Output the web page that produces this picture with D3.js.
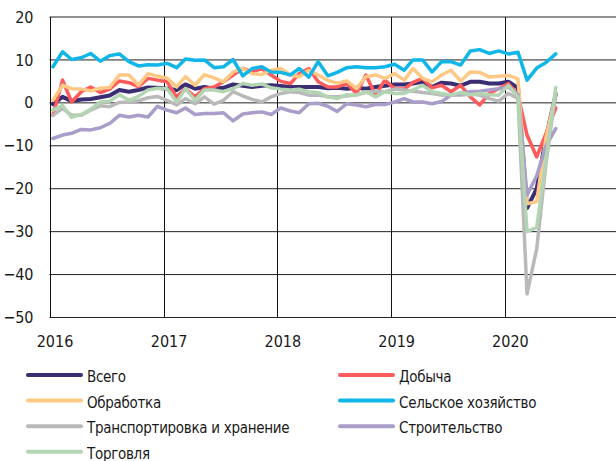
<!DOCTYPE html>
<html>
<head>
<meta charset="utf-8">
<script src="https://cdn.jsdelivr.net/npm/d3@7"></script>
<style>
  body { margin: 0; background: #fff; }
  text { font-family: "Liberation Sans Narrow", "DejaVu Sans Condensed", sans-serif; fill: #1a1a1a; }
</style>
</head>
<body>
<div id="chart"></div>
<script>
// monthly points, Jan 2016 .. Jun 2020
const dates = d3.range(54).map(i => new Date(2016, i, 12));
const years = [2016, 2017, 2018, 2019, 2020];
const yTicks = [-50, -40, -30, -20, -10, 0, 10, 20];

const names = ["Всего", "Добыча", "Обработка", "Сельское хозяйство",
  "Транспортировка и хранение", "Строительство", "Торговля"];
const colors = ["#3b2d72", "#ff5b5b", "#ffc985", "#10b6e8", "#b9b9b9", "#a99dc9", "#b4d5b4"];

const vsego = [-0.3, 1.4, 0.4, 0.8, 0.9, 1.3, 1.7, 3, 2.6, 3,
  3.6, 3.5, 3.3, 3, 4.3, 3.3, 3.7, 3.3, 3.5, 4.3,
  4, 3.7, 4, 4.1, 3.9, 3.7, 3.7, 3.7, 3.7, 3.4,
  3.5, 3.3, 3.5, 3.3, 3.7, 4, 4.3, 4.3, 4.5, 4.9,
  3.7, 4.7, 4.5, 4, 4.9, 4.9, 4.5, 4.5, 4.9, 3.5,
  -24.5, -20, -8, 2];
const dobycha = [-2.9, 5.3, 0.2, 2.6, 3.7, 2.4, 3.2, 5.1, 4.7, 3.8,
  5.7, 5.3, 4.9, 1.4, 3.3, 1.4, 3.3, 3.7, 4.9, 6.5,
  8, 7.2, 8, 6.5, 5, 4.5, 6.8, 8, 4.9, 3.7,
  3.7, 4.5, 2.2, 6.5, 1.8, 5.3, 3.3, 3.2, 4.8, 5.7,
  3.5, 4.1, 2.6, 4.1, 1.4, -0.5, 2.2, 3.3, 4.5, 1.8,
  -7.5, -12.6, -7.1, -1.2];
const obrabotka = [0.6, 4.1, 3.3, 3.2, 2.8, 3.4, 3.6, 6.5, 6.5, 4.1,
  6.8, 6.2, 5.8, 3.7, 6.1, 4.1, 6.6, 5.8, 4.9, 7.2,
  8, 6.8, 6.6, 7.6, 8, 6.5, 6.1, 7.6, 6.5, 5.2,
  4.6, 5.1, 3.3, 6.1, 6.5, 5.7, 6.8, 5.3, 8, 5.7,
  4.9, 6.5, 7.6, 5.1, 7.2, 7.1, 6, 6.2, 6.4, 5.6,
  -23.5, -23, -8, 2];
const selkhoz = [8.4, 11.9, 10.1, 10.5, 11.5, 9.7, 11, 11.4, 9.6, 8.6,
  8.9, 8.8, 9.2, 8.2, 10.2, 9.9, 10, 8.2, 8.4, 10.1,
  6.3, 8, 8.4, 7.2, 7.1, 6.5, 8, 6, 9.6, 6.3,
  7.1, 8.2, 8.4, 8.2, 8.2, 8.4, 9, 7.6, 10, 10,
  7.2, 9.6, 9.6, 8.8, 12.1, 12.4, 11.5, 12.1, 11.4, 11.8,
  5.3, 8.1, 9.4, 11.4];
const transport = [-2.9, -1.3, -2.9, -2.9, -1.7, -0.7, -0.9, 0.1, 0.2, 0.5,
  1.2, 1.5, 0.6, -0.5, 1, -0.2, 1.4, -0.3, 0.6, 2.6,
  1.6, 0.8, 0.2, 1.4, 2.2, 2.6, 2.4, 1.8, 1.8, 1.4,
  1.4, 1.6, 1.9, 2.4, 2.7, 2.6, 3.2, 3, 2.7, 2.4,
  2.2, 1.8, 1.9, 1.8, 2, 1.8, 1, 0.4, 2.2, 1,
  -44.5, -34, -14, 2.5];
const stroitelstvo = [-8.3, -7.5, -7.1, -6.2, -6.3, -5.8, -4.8, -2.9, -3.3, -2.9,
  -3.3, -0.8, -1.7, -2.3, -1.2, -2.7, -2.5, -2.5, -2.3, -4.2,
  -2.6, -2.3, -2.1, -2.7, -1.2, -1.9, -2.3, -0.2, -0.1, -0.8,
  -2, -0.2, -0.5, -0.9, -0.4, -0.4, 0.2, 1, 0.2, 0.2,
  -0.2, 0.3, 1.8, 2.2, 2.6, 2.7, 3, 3.3, 3.7, 1.9,
  -21.5, -17, -10, -6];
const torgovlya = [-1.7, -0.6, -3.4, -2.7, -1.5, 0.2, 0.4, 1.9, 0.6, 1.5,
  3, 3.4, 3.3, 0.2, 3.3, 0.6, 3, 3, 2.6, 3.3,
  4.5, 4.1, 4.4, 3.5, 3.2, 3, 3.2, 2.6, 2.4, 1.4,
  1, 1.9, 1.8, 2.6, 1.4, 2.6, 2.2, 2.2, 3, 4.1,
  2.6, 2.2, 1.8, 2.4, 1.9, 2.2, 1.9, 1.8, 4.1, 1.4,
  -30, -29, -13, 3.6];

const seriesValues = [vsego, dobycha, obrabotka, selkhoz, transport, stroitelstvo, torgovlya];

function draw() {
  const width = 616, height = 461;
  const left = 49.5, top = 17, bottom = 317.5, right = 619;

  const svg = d3.select("#chart").append("svg")
    .attr("width", width)
    .attr("height", height);

  const x = d3.scaleTime()
    .domain([new Date(2016, 0, 1), new Date(2021, 0, 1)])
    .range([left, right]);
  const y = d3.scaleLinear()
    .domain([-50, 20])
    .range([bottom, top]);

  // horizontal grid
  svg.append("g")
    .selectAll("line")
    .data(yTicks)
    .join("line")
    .attr("x1", left).attr("x2", width)
    .attr("y1", d => y(d)).attr("y2", d => y(d))
    .attr("stroke", "#222")
    .attr("stroke-width", 1);

  // vertical year lines
  svg.append("g")
    .selectAll("line")
    .data(years)
    .join("line")
    .attr("x1", d => Math.round(x(new Date(d, 0, 1))) + 0.5)
    .attr("x2", d => Math.round(x(new Date(d, 0, 1))) + 0.5)
    .attr("y1", top).attr("y2", bottom)
    .attr("stroke", "#111")
    .attr("stroke-width", 1);

  // y axis labels
  const yAxis = svg.append("g")
    .attr("transform", `translate(${left},0)`)
    .call(d3.axisLeft(y).tickValues(yTicks).tickSize(0).tickPadding(16).tickFormat(d3.format("d")));
  yAxis.select(".domain").remove();
  yAxis.selectAll("text").style("font-size", "16px").attr("fill", "#1a1a1a");

  // x axis labels
  const xAxis = svg.append("g")
    .attr("transform", `translate(0,${bottom})`)
    .call(d3.axisBottom(x)
      .tickValues(years.map(d => new Date(d, 0, 1)))
      .tickSize(0).tickPadding(18)
      .tickFormat(d3.timeFormat("%Y")));
  xAxis.select(".domain").remove();
  xAxis.selectAll("text").style("font-size", "16px").attr("fill", "#1a1a1a").attr("dx", 5);

  // lines
  const line = d3.line()
    .x((d, i) => x(dates[i]))
    .y(d => y(d));

  svg.append("g")
    .selectAll("path")
    .data(seriesValues)
    .join("path")
    .attr("d", d => line(d))
    .attr("fill", "none")
    .attr("stroke", (d, i) => colors[i])
    .attr("stroke-width", (d, i) => i == 0 ? 4 : 3.5)
    .attr("stroke-linejoin", "round")
    .attr("stroke-linecap", "round");

  // legend, two columns
  const legend = svg.append("g");
  const item = legend.selectAll("g")
    .data(names)
    .join("g")
    .attr("transform", (d, i) => `translate(${i % 2 == 0 ? 28 : 340},${375 + Math.floor(i / 2) * 25.6})`);
  item.append("line")
    .attr("x1", 0).attr("x2", 53)
    .attr("stroke", (d, i) => colors[i])
    .attr("stroke-width", 4)
    .attr("stroke-linecap", "round");
  item.append("text")
    .attr("x", 59)
    .attr("y", 7)
    .style("font-size", "15px")
    .style("letter-spacing", "-0.3px")
    .text(d => d);
}

draw();
</script>
</body>
</html>
